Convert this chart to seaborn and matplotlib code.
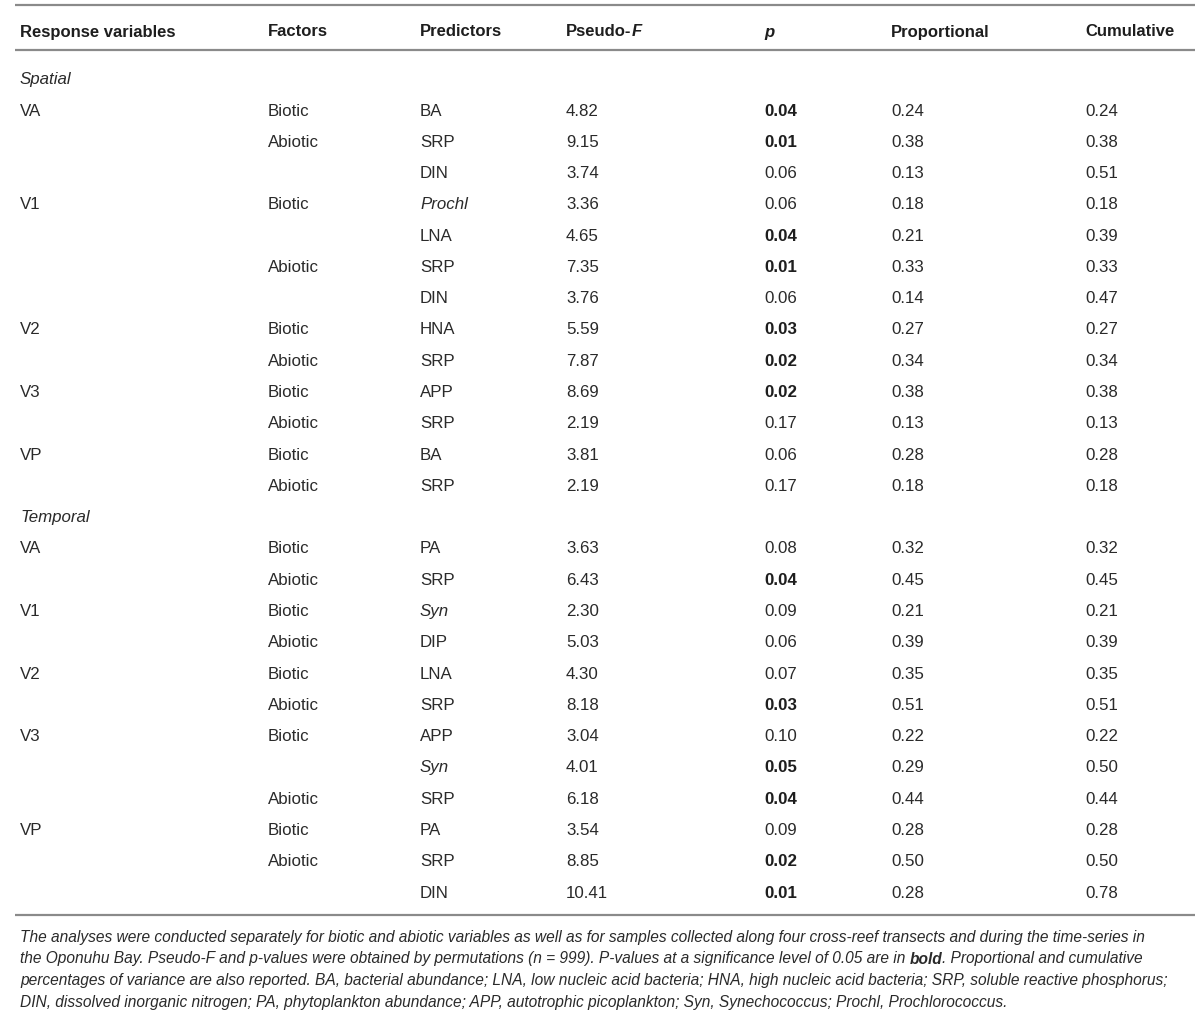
import matplotlib
matplotlib.use("Agg")
import matplotlib.pyplot as plt
import seaborn as sns

sns.set_theme(style="white")
plt.rcParams['font.family'] = ['Liberation Sans', 'DejaVu Sans']

# Table data
#---------------------------
columns = ["Response variables", "Factors", "Predictors", "Pseudo-", "p", "Proportional", "Cumulative"]
sections = ["Spatial", "Temporal"]
section_rows = [13, 12]

response = ["VA", "", "", "V1", "", "", "", "V2", "", "V3", "", "VP", "",
            "VA", "", "V1", "", "V2", "", "V3", "", "", "VP", "", ""]
factor = ["Biotic", "Abiotic", "", "Biotic", "", "Abiotic", "", "Biotic", "Abiotic", "Biotic", "Abiotic", "Biotic", "Abiotic",
          "Biotic", "Abiotic", "Biotic", "Abiotic", "Biotic", "Abiotic", "Biotic", "", "Abiotic", "Biotic", "Abiotic", ""]
predictor = ["BA", "SRP", "DIN", "Prochl", "LNA", "SRP", "DIN", "HNA", "SRP", "APP", "SRP", "BA", "SRP",
             "PA", "SRP", "Syn", "DIP", "LNA", "SRP", "APP", "Syn", "SRP", "PA", "SRP", "DIN"]
italic_predictors = ["Prochl", "Syn"]
pseudo_f = [4.82, 9.15, 3.74, 3.36, 4.65, 7.35, 3.76, 5.59, 7.87, 8.69, 2.19, 3.81, 2.19,
            3.63, 6.43, 2.30, 5.03, 4.30, 8.18, 3.04, 4.01, 6.18, 3.54, 8.85, 10.41]
p_val = [0.04, 0.01, 0.06, 0.06, 0.04, 0.01, 0.06, 0.03, 0.02, 0.02, 0.17, 0.06, 0.17,
         0.08, 0.04, 0.09, 0.06, 0.07, 0.03, 0.10, 0.05, 0.04, 0.09, 0.02, 0.01]
proportional = [0.24, 0.38, 0.13, 0.18, 0.21, 0.33, 0.14, 0.27, 0.34, 0.38, 0.13, 0.28, 0.18,
                0.32, 0.45, 0.21, 0.39, 0.35, 0.51, 0.22, 0.29, 0.44, 0.28, 0.50, 0.28]
cumulative = [0.24, 0.38, 0.51, 0.18, 0.39, 0.33, 0.47, 0.27, 0.34, 0.38, 0.13, 0.28, 0.18,
              0.32, 0.45, 0.21, 0.39, 0.35, 0.51, 0.22, 0.50, 0.44, 0.28, 0.50, 0.78]

footnote = [
    [("The analyses were conducted separately for biotic and abiotic variables as well as for samples collected along four cross-reef transects and during the time-series in", "normal")],
    [("the Oponuhu Bay. Pseudo-F and p-values were obtained by permutations (n = 999). P-values at a significance level of 0.05 are in ", "normal"),
     ("bold", "bold"), (". Proportional and cumulative", "normal")],
    [("percentages of variance are also reported. BA, bacterial abundance; LNA, low nucleic acid bacteria; HNA, high nucleic acid bacteria; SRP, soluble reactive phosphorus;", "normal")],
    [("DIN, dissolved inorganic nitrogen; PA, phytoplankton abundance; APP, autotrophic picoplankton; Syn, Synechococcus; Prochl, Prochlorococcus.", "normal")],
]

# Layout
#---------------------------
col_x = [20, 268, 420, 566, 764, 891, 1085]
header_base = 36.5
first_row_base = 115.5
row_pitch = 31.28
foot_base = [942, 963.5, 985, 1006.5]
txt_color = '#1e1e1e'
body_color = '#2a2a2a'
rule_color = '#8a8a8a'
body_fs = 12.2
foot_fs = 11.2

fig = plt.figure(figsize=(12, 10.16), dpi=100)
ax = fig.add_axes([0, 0, 1, 1])
ax.set_xlim(0, 1200)
ax.set_ylim(1016, 0)
ax.axis('off')

# rules
for yy in [5, 50, 915]:
    ax.plot([15, 1195], [yy, yy], color=rule_color, lw=1.6, solid_capstyle='butt')

renderer = fig.canvas.get_renderer()

def draw_runs(x, y, runs, fs, style='normal', color=txt_color):
    # consecutive pieces of text, each with its own weight / style
    for txt, weight, st in runs:
        t = ax.text(x, y, txt, fontsize=fs, fontweight=weight, style=st or style,
                    color=color, va='baseline', ha='left')
        bb = t.get_window_extent(renderer=renderer)
        x = x + bb.width

# header
for i, name in enumerate(columns):
    if name == "Pseudo-":
        draw_runs(col_x[i], header_base, [("Pseudo-", "bold", None), ("F", "bold", "italic")], 12.0)
    elif name == "p":
        draw_runs(col_x[i], header_base, [(name, "bold", "italic")], 12.0)
    else:
        draw_runs(col_x[i], header_base, [(name, "bold", None)], 12.0)

# body
slot = -1
r = 0
for s, n in zip(sections, section_rows):
    ax.text(col_x[0], first_row_base + slot * row_pitch, s, fontsize=body_fs, style='italic',
            color=body_color, va='baseline')
    slot += 1
    for k in range(n):
        y = first_row_base + slot * row_pitch
        cells = [response[r], factor[r], predictor[r], f"{pseudo_f[r]:.2f}", f"{p_val[r]:.2f}",
                 f"{proportional[r]:.2f}", f"{cumulative[r]:.2f}"]
        for c, val in enumerate(cells):
            weight = 'normal'
            style = 'normal'
            color = body_color
            if c == 2 and val in italic_predictors:
                style = 'italic'
            if c == 4 and p_val[r] <= 0.05:
                weight = 'bold'
                color = txt_color
            ax.text(col_x[c], y, val, fontsize=body_fs, fontweight=weight, style=style,
                    color=color, va='baseline')
        slot += 1
        r += 1

# footnote
for yy, runs in zip(foot_base, footnote):
    draw_runs(20, yy, [(t, w, None) for t, w in runs], foot_fs, style='italic', color=body_color)

fig.savefig('out.png', dpi=100)
